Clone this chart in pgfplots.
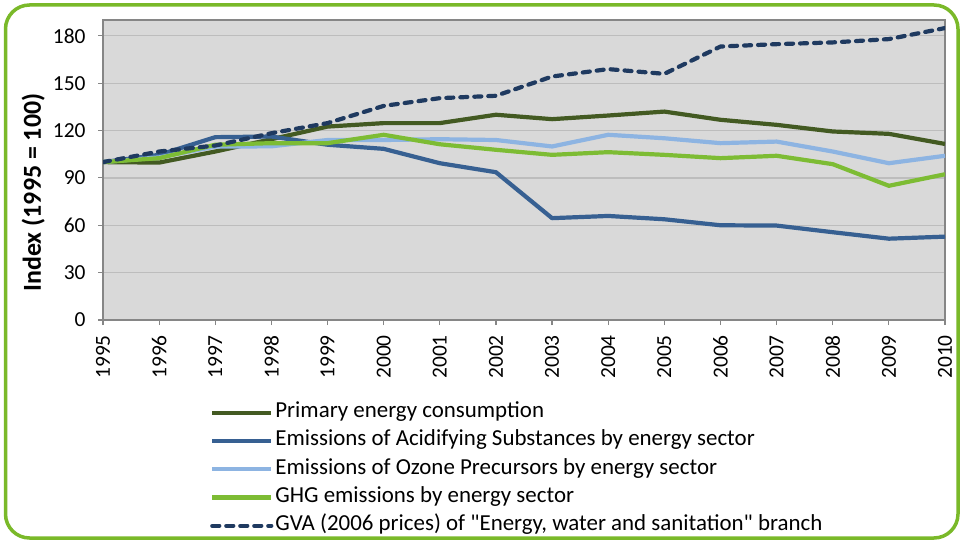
\documentclass[border=0pt]{standalone}
\usepackage{fontspec}
\setmainfont{Carlito}
\usepackage{pgfplots}
\pgfplotsset{compat=1.18}
\definecolor{bordergreen}{HTML}{7AB929}
\definecolor{bgc}{HTML}{D9D9D9}
\definecolor{gridc}{HTML}{BDBDBD}
\definecolor{axc}{HTML}{868686}
\definecolor{cprim}{HTML}{435A22}
\definecolor{cacid}{HTML}{376092}
\definecolor{cozone}{HTML}{8DB4E2}
\definecolor{cghg}{HTML}{7DBC34}
\definecolor{cgva}{HTML}{1F3A60}
\begin{document}
\begin{tikzpicture}[x=1bp,y=1bp]
\path[use as bounding box] (0,0) rectangle (962,-542);
\draw[bordergreen, line width=3.5bp, rounded corners=24bp] (5.5,-5) rectangle (958,-538);
\begin{axis}[
  at={(103bp,-320bp)}, anchor=south west,
  scale only axis, width=842bp, height=300bp,
  xmin=1995, xmax=2010, ymin=0, ymax=190,
  xtick={1995,1996,...,2010}, ytick={0,30,...,180},
  xtick pos=left, ytick pos=left, tick align=outside,
  major tick length=5bp,
  tick style={axc, line width=1.2bp},
  axis line style={axc, line width=1.8bp},
  axis background/.style={fill=bgc},
  ymajorgrids, major grid style={gridc, line width=1.3bp},
  /pgf/number format/assume math mode=true,
  /pgf/number format/1000 sep={},
  tick label style={font=\fontsize{21.5}{24}\selectfont},
  xticklabel style={rotate=90, anchor=east, inner xsep=10bp},
  yticklabel style={xshift=-9bp},
  ylabel={\bfseries Index (1995 = 100)},
  ylabel style={at={(axis description cs:-0.083,0.425)}, anchor=center, font=\fontsize{26}{30}\selectfont},
  legend style={at={(axis description cs:0.1235,-0.255)}, anchor=north west, draw=none, fill=none,
    font=\fontsize{23}{28}\selectfont,
    nodes={inner xsep=2bp, inner ysep=0bp, text height=19bp, text depth=9.25bp}},
  legend cell align=left,
  legend image code/.code={\draw[#1] (0bp,0bp) -- (59bp,0bp);},
  every axis plot/.append style={line width=4.2bp, line join=round},
]
\addplot[cprim] coordinates {(1995,100) (1996,99.7) (1997,106.7) (1998,114.5) (1999,122.5) (2000,124.7) (2001,124.7) (2002,130) (2003,127.2) (2004,129.5) (2005,132) (2006,126.8) (2007,123.6) (2008,119.4) (2009,117.9) (2010,111.5)};
\addlegendentry{Primary energy consumption}
\addplot[cacid] coordinates {(1995,100) (1996,104.6) (1997,115.8) (1998,116.2) (1999,111) (2000,108.4) (2001,99.3) (2002,93.6) (2003,64.5) (2004,65.9) (2005,63.8) (2006,60) (2007,59.8) (2008,55.6) (2009,51.5) (2010,52.8)};
\addlegendentry{Emissions of Acidifying Substances by energy sector}
\addplot[cozone] coordinates {(1995,100) (1996,103) (1997,109.8) (1998,110) (1999,114) (2000,114) (2001,114.5) (2002,114) (2003,109.9) (2004,117.3) (2005,115.1) (2006,112) (2007,113) (2008,106.7) (2009,99.3) (2010,104)};
\addlegendentry{Emissions of Ozone Precursors by energy sector}
\addplot[cghg] coordinates {(1995,100) (1996,102.5) (1997,111) (1998,112) (1999,112) (2000,117.3) (2001,111.3) (2002,107.8) (2003,104.6) (2004,106.3) (2005,104.6) (2006,102.5) (2007,104) (2008,98.7) (2009,85) (2010,92.3)};
\addlegendentry{GHG emissions by energy sector}
\addplot[cgva, line cap=round, dash pattern=on 7bp off 7bp] coordinates {(1995,100) (1996,106.7) (1997,110.5) (1998,118.3) (1999,124.7) (2000,135.6) (2001,140.5) (2002,142) (2003,154.2) (2004,158.9) (2005,155.9) (2006,173.2) (2007,174.7) (2008,175.8) (2009,177.9) (2010,184.9)};
\addlegendentry{GVA (2006 prices) of \textquotedbl Energy, water and sanitation\textquotedbl{} branch}
\end{axis}
\end{tikzpicture}
\end{document}
